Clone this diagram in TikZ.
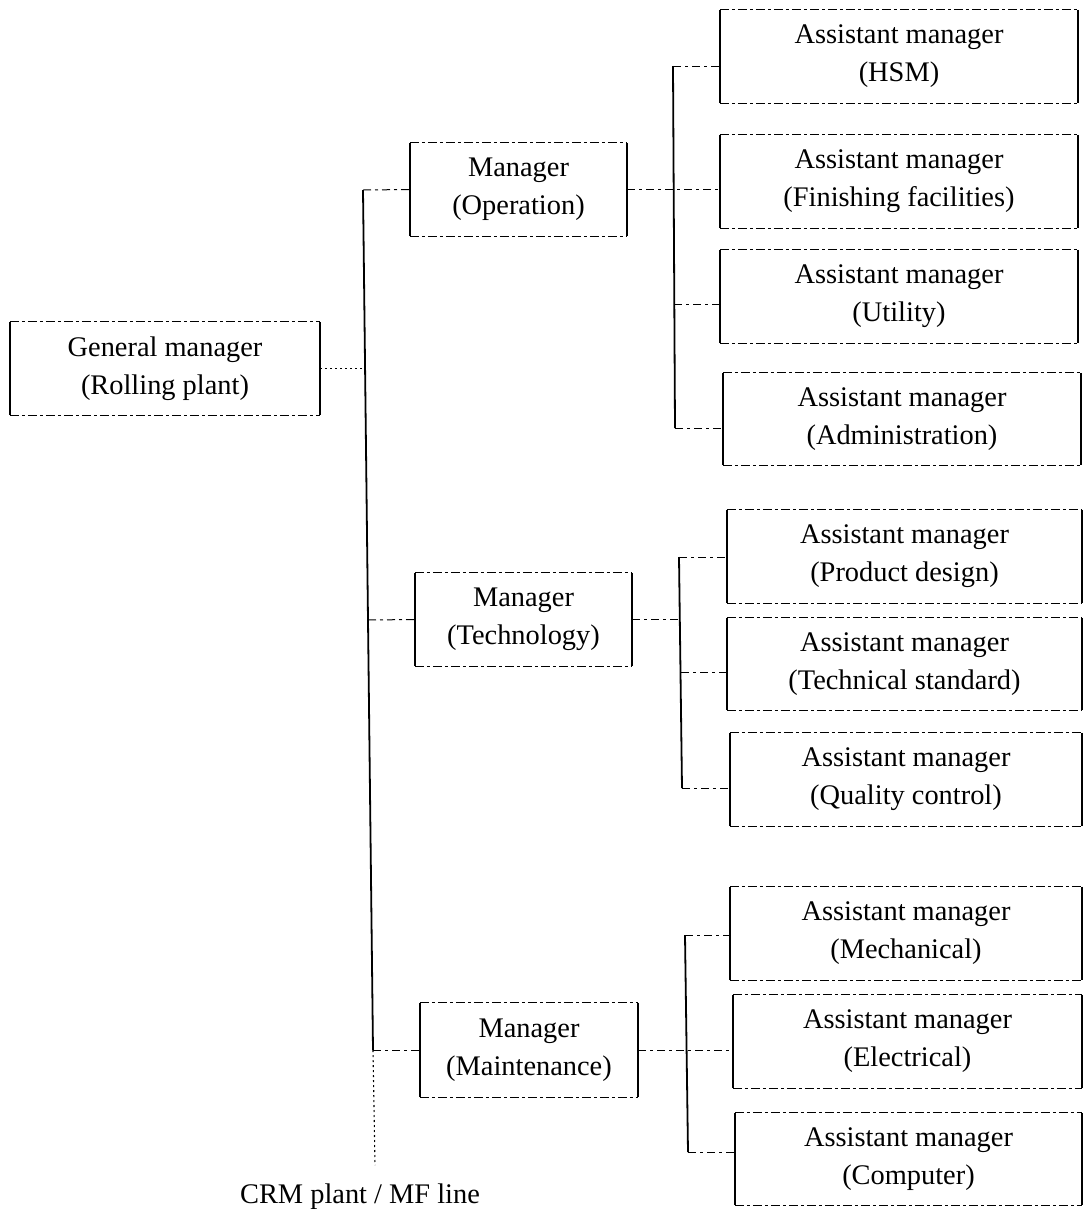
\documentclass[tikz,border=0pt]{standalone}
\usepackage{fontspec}
\setmainfont{Liberation Serif}
\begin{document}
\begin{tikzpicture}[x=1bp,y=-1bp,
  box/.style={align=center, inner sep=0pt, font=\fontsize{28.5}{38}\selectfont},
  hline/.style={line width=1bp, dash pattern=on 9bp off 3bp on 3bp off 3bp},
  vline/.style={line width=1.8bp},
  conn/.style={line width=1bp, dash pattern=on 8bp off 4bp on 3bp off 4bp},
  dotline/.style={line width=1.1bp, dash pattern=on 2bp off 3bp}]
\useasboundingbox (0,0) rectangle (1085,1209);
% general manager
\node[box, minimum width=310bp, minimum height=93bp] (gm) at (165,368.5) {General manager\\(Rolling plant)};
% managers
\node[box, minimum width=217bp, minimum height=93bp] (op) at (518.5,189.5) {Manager\\(Operation)};
\node[box, minimum width=217bp, minimum height=93bp] (te) at (523.5,619.5) {Manager\\(Technology)};
\node[box, minimum width=218bp, minimum height=94bp] (ma) at (529,1050) {Manager\\(Maintenance)};
% assistants (operation)
\node[box, minimum width=358bp, minimum height=93bp] (hsm) at (899,56.5) {Assistant manager\\(HSM)};
\node[box, minimum width=358bp, minimum height=93bp] (fin) at (899,181.5) {Assistant manager\\(Finishing facilities)};
\node[box, minimum width=358bp, minimum height=93bp] (uti) at (899,296.5) {Assistant manager\\(Utility)};
\node[box, minimum width=358bp, minimum height=92bp] (adm) at (902,419) {Assistant manager\\(Administration)};
% assistants (technology)
\node[box, minimum width=355bp, minimum height=93bp] (pd) at (904.5,556.5) {Assistant manager\\(Product design)};
\node[box, minimum width=355bp, minimum height=92bp] (ts) at (904.5,664) {Assistant manager\\(Technical standard)};
\node[box, minimum width=352bp, minimum height=93bp] (qc) at (906,779.5) {Assistant manager\\(Quality control)};
% assistants (maintenance)
\node[box, minimum width=352bp, minimum height=93bp] (mec) at (906,933.5) {Assistant manager\\(Mechanical)};
\node[box, minimum width=349bp, minimum height=93bp] (ele) at (907.5,1041.5) {Assistant manager\\(Electrical)};
\node[box, minimum width=347bp, minimum height=92bp] (com) at (908.5,1159) {Assistant manager\\(Computer)};
% box outlines: solid sides, dashed top/bottom
\foreach \n in {gm,op,te,ma,hsm,fin,uti,adm,pd,ts,qc,mec,ele,com}{
  \draw[vline] (\n.north west) -- (\n.south west);
  \draw[vline] (\n.north east) -- (\n.south east);
  \draw[hline] (\n.north west) -- (\n.north east);
  \draw[hline] (\n.south west) -- (\n.south east);
}
% main trunk
\coordinate (t1) at (363,190);
\coordinate (t2) at (368,620);
\coordinate (t3) at (373,1050);
\coordinate (t4) at (375,1165);
\node[box, anchor=base] (crm) at (360,1203) {CRM plant / MF line};
\draw[vline] (t1) -- (t2) -- (t3);
\draw[dotline] (t3) -- (t4);
\draw[dotline] (gm.east) -- (gm.east -| t1);
\draw[conn] (t1) -- (op.west);
\draw[conn] (t2) -- (te.west);
\draw[conn] (t3) -- (ma.west);
% operation bus
\coordinate (ob1) at (673,66);
\coordinate (ob4) at (675,428);
\draw[vline] (ob1) -- (ob4);
\draw[conn] (ob1) -- (ob1 -| hsm.west);
\draw[conn] (op.east) -- (op.east -| fin.west);
\draw[conn] (674,304) -- (674,304 -| uti.west);
\draw[conn] (ob4) -- (ob4 -| adm.west);
% technology bus
\coordinate (tb1) at (679,557);
\coordinate (tb3) at (682,788);
\draw[vline] (tb1) -- (tb3);
\draw[conn] (tb1) -- (tb1 -| pd.west);
\draw[conn] (te.east) -- (te.east -| tb1);
\draw[conn] (681,672) -- (681,672 -| ts.west);
\draw[conn] (tb3) -- (tb3 -| qc.west);
% maintenance bus
\coordinate (mb1) at (685,935);
\coordinate (mb3) at (688,1152);
\draw[vline] (mb1) -- (mb3);
\draw[conn] (mb1) -- (mb1 -| mec.west);
\draw[conn] (ma.east) -- (ma.east -| ele.west);
\draw[conn] (mb3) -- (mb3 -| com.west);
\end{tikzpicture}
\end{document}
